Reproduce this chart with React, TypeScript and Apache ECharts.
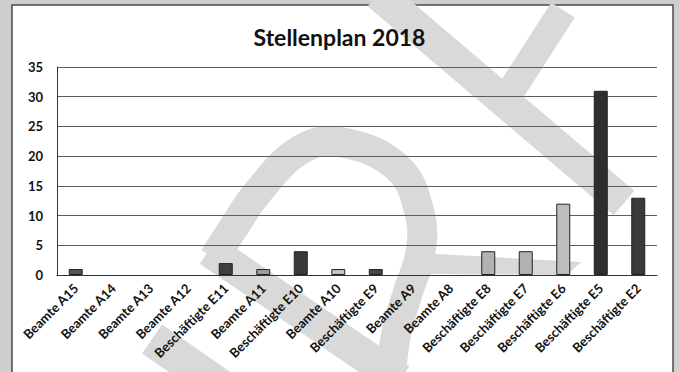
import React, { useEffect, useRef } from "react";
import * as echarts from "echarts";

const categories = [
  "Beamte A15",
  "Beamte A14",
  "Beamte A13",
  "Beamte A12",
  "Beschäftigte E11",
  "Beamte A11",
  "Beschäftigte E10",
  "Beamte A10",
  "Beschäftigte E9",
  "Beamte A9",
  "Beamte A8",
  "Beschäftigte E8",
  "Beschäftigte E7",
  "Beschäftigte E6",
  "Beschäftigte E5",
  "Beschäftigte E2",
];
const values = [1, 0, 0, 0, 2, 1, 4, 1, 1, 0, 0, 4, 4, 12, 31, 13];
const barColors = [
  "#555555", "#555555", "#555555", "#555555",
  "#3e3e3e", "#9c9c9c", "#3a3a3a", "#c4c4c4",
  "#484848", "#888888", "#888888", "#b2b2b2",
  "#b2b2b2", "#bdbdbd", "#2e2e2e", "#3a3a3a",
];
const titleText = "Stellenplan 2018";
const yMin = 0;
const yMax = 35;
const yStep = 5;

const WM = "#d9d9d9";

function stripe(x1: number, y1: number, x2: number, y2: number, w: number) {
  const dx = x2 - x1;
  const dy = y2 - y1;
  const len = Math.sqrt(dx * dx + dy * dy);
  const nx = (-dy / len) * (w / 2);
  const ny = (dx / len) * (w / 2);
  return [
    [x1 + nx, y1 + ny],
    [x2 + nx, y2 + ny],
    [x2 - nx, y2 - ny],
    [x1 - nx, y1 - ny],
  ];
}

export default function App() {
  const ref = useRef<HTMLDivElement>(null);
  useEffect(() => {
    if (!ref.current) return;
    const chart = echarts.init(ref.current, null, { renderer: "svg" });
    const wmPoly = (pts: number[][]) => ({
      type: "polygon",
      z: -5,
      shape: { points: pts },
      style: { fill: WM },
      silent: true,
    });
    const bowl = [
      [214, 258], [232, 230], [258, 192], [300, 150], [340, 142],
      [398, 168], [420, 215], [420, 255], [408, 292], [396, 335], [390, 385],
    ];
    chart.setOption({
      animation: false,
      backgroundColor: "#cfcfcf",
      title: {
        text: titleText,
        left: "center",
        top: 20,
        textStyle: {
          fontFamily: "Lato",
          fontWeight: "bold",
          fontSize: 23,
          color: "#111",
        },
      },
      graphic: [
        {
          type: "rect",
          z: -10,
          shape: { x: 12, y: 5, width: 661, height: 380 },
          style: { fill: "#ffffff", stroke: "#4a4a4a", lineWidth: 1.5 },
          silent: true,
        },
        wmPoly(stripe(378, -6, 624, 203, 32)),
        wmPoly(stripe(563, 10, 500, 108, 28)),
        wmPoly(stripe(209, 250, 400, 380, 33)),
        wmPoly(stripe(152, 339, 240, 400, 35)),
        wmPoly([[420, 253], [581, 262], [567, 275], [425, 274]]),
        {
          type: "polyline",
          z: -5,
          shape: { points: bowl, smooth: 0.4 },
          style: { stroke: WM, lineWidth: 30, fill: null },
          silent: true,
        },
      ],
      grid: { left: 57, right: 22, top: 67, bottom: 97 },
      xAxis: {
        type: "category",
        data: categories,
        axisTick: { show: false },
        axisLine: { lineStyle: { color: "#333", width: 1 } },
        axisLabel: {
          interval: 0,
          rotate: 45,
          margin: 11,
          fontFamily: "Lato",
          fontWeight: "bold",
          fontSize: 13,
          color: "#111",
        },
      },
      yAxis: {
        type: "value",
        min: yMin,
        max: yMax,
        interval: yStep,
        axisLine: { show: true, lineStyle: { color: "#333", width: 1 } },
        axisTick: { show: false },
        splitLine: { lineStyle: { color: "#5e5e5e", width: 1 } },
        axisLabel: {
          margin: 14,
          fontFamily: "Lato",
          fontWeight: "bold",
          fontSize: 13,
          color: "#111",
        },
      },
      series: [
        {
          type: "bar",
          barWidth: 14,
          data: values.map((v, i) => ({
            value: v,
            itemStyle: {
              color: barColors[i],
              borderColor: "#222",
              borderWidth: v > 0 ? 1 : 0,
            },
          })),
        },
      ],
    });
    return () => chart.dispose();
  }, []);
  return (
    <div
      style={{ position: "fixed", left: 0, top: 0, width: 679, height: 372, overflow: "hidden" }}
    >
      <div ref={ref} style={{ width: 679, height: 372 }} />
    </div>
  );
}
